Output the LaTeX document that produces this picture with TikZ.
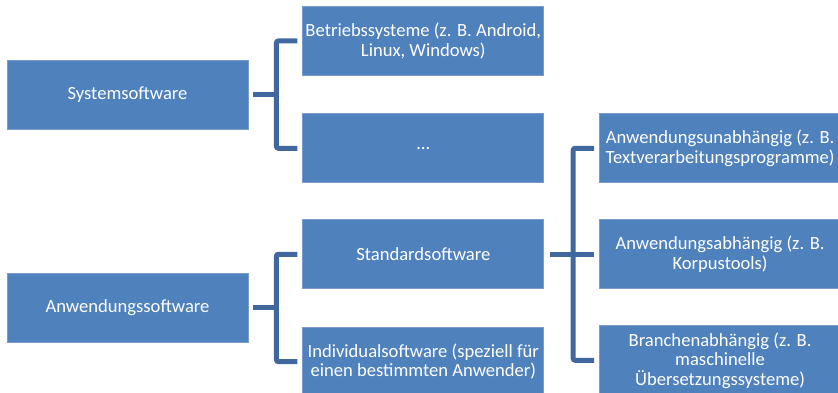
\documentclass[tikz,border=0pt]{standalone}
\usepackage{fontspec}
\setmainfont{Carlito}
\usepackage{tikz}
\usetikzlibrary{positioning}
\definecolor{boxblue}{RGB}{79,129,189}
\definecolor{boxedge}{RGB}{122,156,205}
\definecolor{linkblue}{RGB}{65,104,158}
\tikzstyle{box}=[rectangle,fill=boxblue,draw=boxedge,line width=0.8pt,text=white,minimum width=241pt,minimum height=69pt,align=center,inner sep=2pt,font=\fontsize{18.6}{19.5}\selectfont]
\tikzstyle{link}=[line width=5pt,draw=linkblue,rounded corners=2pt]

\begin{document}
\begin{tikzpicture}[x=1pt,y=1pt]
\useasboundingbox (0,0) rectangle (838,-393);

\node[box] (sys) at (127.5,-94.5) {Systemsoftware};
\node[box,right=54pt of sys,yshift=53.5pt] (bs) {Betriebssysteme (z. B. Android,\\Linux, Windows)};
\node[box,below=37.5pt of bs] (dots) {...};

\node[box,below=143.5pt of sys] (anw) {Anwendungssoftware};
\node[box,right=54pt of anw,yshift=53.5pt] (std) {Standardsoftware};
\node[box,below=37.5pt of std] (ind) {Individualsoftware (speziell für\\einen bestimmten Anwender)};

\node[box,right=55pt of std,yshift=106pt] (unab) {Anwendungsunabhängig (z. B.\\Textverarbeitungsprogramme)};
\node[box,right=55pt of std] (ab) {Anwendungsabhängig (z. B.\\Korpustools)};
\node[box,right=55pt of std,yshift=-106pt] (branch) {Branchenabhängig (z. B.\\maschinelle\\Übersetzungssysteme)};

\draw[link] ([xshift=5pt]sys.east) -- ([xshift=28pt]sys.east);
\draw[link] ([xshift=-5pt]bs.west) -| ([xshift=28pt]sys.east) |- ([xshift=-5pt]dots.west);

\draw[link] ([xshift=5pt]anw.east) -- ([xshift=28pt]anw.east);
\draw[link] ([xshift=-5pt]std.west) -| ([xshift=28pt]anw.east) |- ([xshift=-5pt]ind.west);

\draw[link] ([xshift=6pt]std.east) -- ([xshift=-5pt]ab.west);
\draw[link] ([xshift=-5pt]unab.west) -| ([xshift=29pt]std.east) |- ([xshift=-5pt]branch.west);

\end{tikzpicture}
\end{document}
